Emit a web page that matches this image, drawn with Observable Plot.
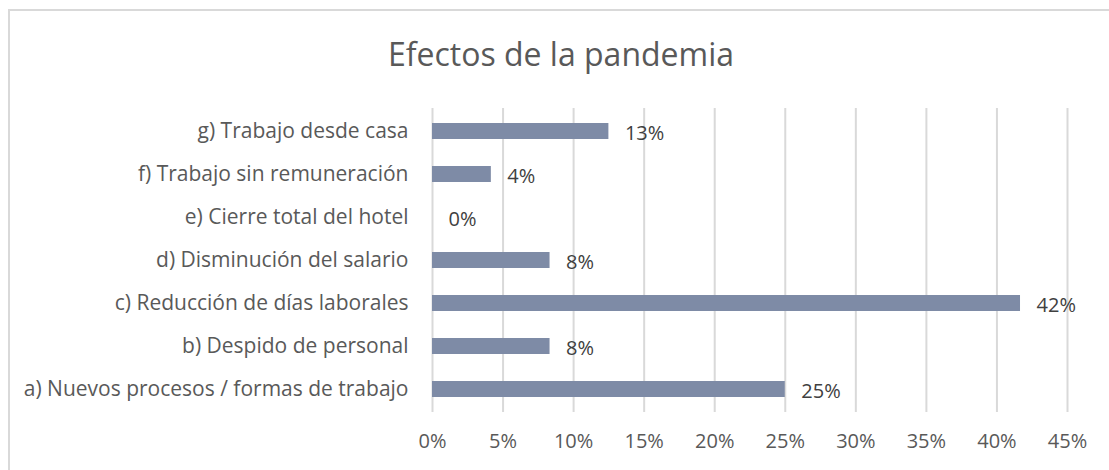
<!DOCTYPE html>
<html>
<head>
<meta charset="utf-8">
<script src="https://cdn.jsdelivr.net/npm/d3@7"></script>
<script src="https://cdn.jsdelivr.net/npm/@observablehq/plot@0.6"></script>
<style>
  html, body { margin: 0; padding: 0; background: #fff; }
  #wrap { position: relative; width: 1109px; height: 470px; overflow: hidden; font-family: "Open Sans", sans-serif; }
  #frame { position: absolute; left: 8px; top: 9px; width: 1200px; height: 600px; border: 2px solid #d9d9d9; box-sizing: border-box; }
  #title { position: absolute; left: 0; top: 34px; width: 1122px; text-align: center; font-size: 32px; line-height: 40px; color: #595959; }
  #chart { position: absolute; left: 0; top: 70px; }
</style>
</head>
<body>
<div id="wrap">
  <div id="frame"></div>
  <div id="title">Efectos de la pandemia</div>
  <div id="chart"></div>
</div>
<script>
const categories = [
  "g) Trabajo desde casa",
  "f) Trabajo sin remuneración",
  "e) Cierre total del hotel",
  "d) Disminución del salario",
  "c) Reducción de días laborales",
  "b) Despido de personal",
  "a) Nuevos procesos / formas de trabajo"
];
const values = [0.125, 0.0417, 0, 0.0833, 0.4167, 0.0833, 0.25];
const valueLabels = ["13%", "4%", "0%", "8%", "42%", "8%", "25%"];
const xTicks = [0, 0.05, 0.10, 0.15, 0.20, 0.25, 0.30, 0.35, 0.40, 0.45];

const data = categories.map((c, i) => ({category: c, value: values[i], label: valueLabels[i]}));

const chart = Plot.plot({
  width: 1109,
  height: 400,
  marginLeft: 432,
  marginRight: 42,
  marginTop: 38,
  marginBottom: 58,
  style: { fontFamily: "'Open Sans', sans-serif", fontSize: "20px", color: "#595959", background: "transparent" },
  x: { domain: [0, 0.45], ticks: xTicks, tickFormat: d3.format(".0%"), label: null },
  y: { domain: categories, paddingInner: 0.63, paddingOuter: 0.32, label: null },
  marks: [
    Plot.ruleX(xTicks, { stroke: "#d9d9d9", strokeWidth: 2 }),
    Plot.barX(data, { x: "value", y: "category", fill: "#7e8ba6" }),
    Plot.text(data, { x: "value", y: "category", text: "label", textAnchor: "start", dx: 16, dy: 2, fill: "#404040", fontSize: 20 }),
    Plot.axisX({ ticks: xTicks, tickSize: 0, tickPadding: 21, tickFormat: d3.format(".0%"), fontSize: 20, fill: "#595959", label: null }),
    Plot.axisY({ tickSize: 0, tickPadding: 24, fontSize: 21, fill: "#595959", label: null })
  ]
});
document.getElementById("chart").appendChild(chart);
</script>
</body>
</html>
